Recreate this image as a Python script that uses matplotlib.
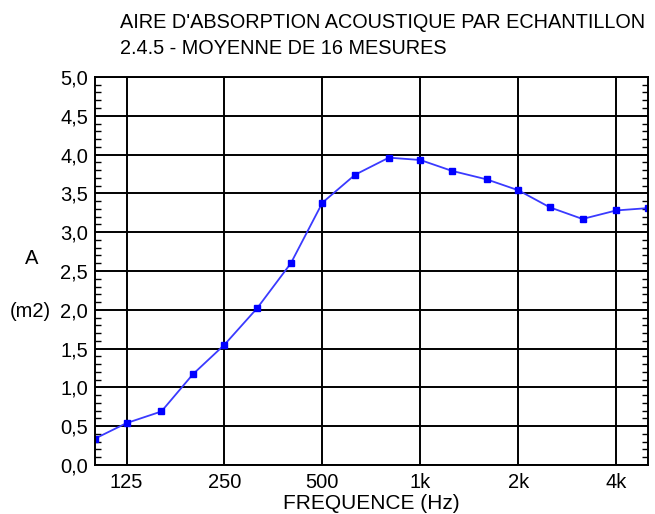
import numpy as np
import matplotlib.pyplot as plt
import matplotlib as mpl
from matplotlib.ticker import FixedLocator, NullLocator, MultipleLocator

mpl.rcParams['font.family'] = ['Liberation Sans', 'DejaVu Sans']
mpl.rcParams['font.size'] = 14

# tiers d'octave
freq = [100, 125, 160, 200, 250, 315, 400, 500, 630, 800,
        1000, 1250, 1600, 2000, 2500, 3150, 4000, 5000]
aire = [0.34, 0.54, 0.69, 1.17, 1.55, 2.02, 2.60, 3.38, 3.74, 3.96,
        3.93, 3.79, 3.68, 3.54, 3.32, 3.17, 3.28, 3.31]

xticks = [125, 250, 500, 1000, 2000, 4000]
xlabels = ['125', '250', '500', '1k', '2k', '4k']
yticks = np.arange(0, 5.01, 0.5)

fig = plt.figure(figsize=(6.55, 5.14), dpi=100)
ax = fig.add_axes([0.145, 0.0953, 0.844, 0.755])

ax.plot(freq, aire, color='#3a3aff', lw=1.3, marker='s', ms=5,
        mfc='#0000ff', mec='#0000ff')

ax.set_xscale('log')
ax.set_xlim(100, 5000)
ax.set_ylim(0, 5)
ax.xaxis.set_major_locator(FixedLocator(xticks))
ax.xaxis.set_minor_locator(NullLocator())
ax.set_xticklabels(xlabels)
ax.set_yticks(yticks)
ax.set_yticklabels([f'{v:.1f}'.replace('.', ',') for v in yticks])
ax.yaxis.set_minor_locator(MultipleLocator(0.1))

ax.tick_params(axis='both', which='major', length=0, labelsize=14.5, pad=6)
ax.tick_params(axis='y', which='major', pad=5)
ax.tick_params(axis='y', which='minor', direction='in', length=4, width=1,
               left=True, right=True)
ax.grid(True, which='major', color='black', lw=1.4)
for s in ax.spines.values():
    s.set_linewidth(1.4)

ax.set_xlabel('FREQUENCE (Hz)', fontsize=15, labelpad=1)
fig.text(0.049, 0.497, 'A', fontsize=14.5, ha='center', va='center')
fig.text(0.047, 0.393, '(m2)', fontsize=14.5, ha='center', va='center')

fig.text(0.183, 0.957, "AIRE D'ABSORPTION ACOUSTIQUE PAR ECHANTILLON",
         fontsize=14.3, ha='left', va='center')
fig.text(0.183, 0.906, "2.4.5 - MOYENNE DE 16 MESURES",
         fontsize=14.3, ha='left', va='center')

plt.savefig('out.png', dpi=100)
